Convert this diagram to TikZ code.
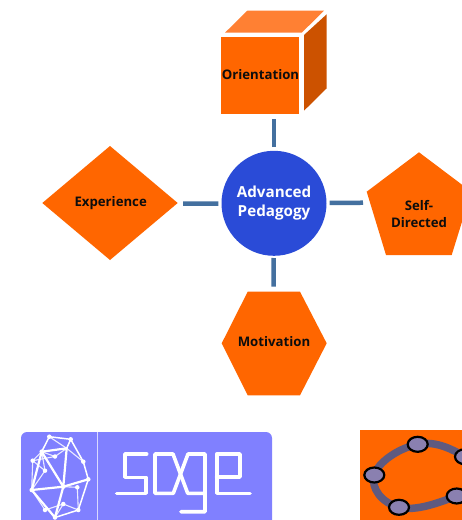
\documentclass[tikz,border=0pt]{standalone}
\usepackage{fontspec}
\setmainfont{Open Sans}
\definecolor{orangeM}{HTML}{FF6600}
\definecolor{orangeL}{HTML}{FF8033}
\definecolor{orangeD}{HTML}{CC5200}
\definecolor{hubblue}{HTML}{2A4BD7}
\definecolor{barblue}{HTML}{44709F}
\definecolor{sagebg}{HTML}{8080FF}
\definecolor{ggline}{HTML}{5F5A80}
\definecolor{ggdot}{HTML}{8A80B0}
\tikzset{
  x=1pt,y=-1pt,
  lab/.style={font=\bfseries\fontsize{13.2}{16}\selectfont,text=black!95,inner sep=0pt,align=center},
  bar/.style={draw=barblue,line width=4.5pt},
  wthick/.style={draw=white,line width=2.2pt,line cap=round,line join=round},
  wmid/.style={draw=white,line width=1.5pt,line cap=round,line join=round},
  wthin/.style={draw=white!85!sagebg,line width=1.1pt,line cap=round},
  wdot/.style={fill=white,draw=none,circle,minimum size=4.5pt,inner sep=0pt},
  sageglyph/.style={draw=white,line width=3.6pt,line join=round,line cap=round},
  ggdotstyle/.style={ellipse,fill=ggdot,draw=black,line width=2.2pt,minimum width=20pt,minimum height=15pt,inner sep=0pt}
}
\usetikzlibrary{shapes.geometric}
\begin{document}
\begin{tikzpicture}
\useasboundingbox (0,0) rectangle (462,520);
\clip (0,0) rectangle (462,520);
\fill[white] (0,0) rectangle (462,520);
% cube
\fill[orangeL] (225,32.7) -- (247.3,10.7) -- (324,10.7) -- (301.7,32.7) -- cycle;
\fill[orangeD] (304,35) -- (326.7,14.3) -- (326.7,88.3) -- (304,110.7) -- cycle;
\fill[orangeM] (220.7,37.3) rectangle (299.3,114.3);
\coordinate (cubeEdge) at (274,114.3);
\node[lab] (orient) at (260.5,75) {Orientation};
% diamond
\fill[orangeM] (42.3,203) -- (110,146) -- (177.7,203) -- (110,260) -- cycle;
\coordinate (diamondEdge) at (177.7,203.7);
\node[lab] (exper) at (110.7,203) {Experience};
% pentagon
\fill[orangeM] (419,152.3) -- (471.3,191.7) -- (451.7,255) -- (386,255) -- (366.7,191.7) -- cycle;
\coordinate (pentEdge) at (367.5,202.7);
\node[lab,font=\bfseries\fontsize{13.2}{16.3}\selectfont] (selfd) at (419,214) {Self-\\Directed};
% hexagon
\fill[orangeM] (221.7,343.3) -- (247.7,291.7) -- (300,291.7) -- (326.7,343.3) -- (300,395.3) -- (247.7,395.3) -- cycle;
\coordinate (hexEdge) at (273.5,291.7);
\node[lab] (motiv) at (274,342) {Motivation};
% hub
\node[circle,fill=hubblue,minimum size=105pt,inner sep=0pt,text=white,align=center,
  font=\bfseries\fontsize{15.2}{19.4}\selectfont] (hub) at (274,203.3) {Advanced\\Pedagogy};
% connectors
\draw[bar,shorten <=3.5pt,shorten >=5pt] (hub) -- (cubeEdge);
\draw[bar,shorten <=3pt,shorten >=5.5pt] (hub) -- (diamondEdge);
\draw[bar,shorten <=3pt,shorten >=4.5pt] (hub) -- (pentEdge);
\draw[bar,shorten <=2pt,shorten >=5pt] (hub) -- (hexEdge);
% sage logo
\fill[sagebg,rounded corners=6pt] (21,432) rectangle (272,540);
\draw[white!70!sagebg,line width=1.3pt] (97.7,432) -- (97.7,520);
\coordinate (a) at (49.3,436.7);
\coordinate (b) at (70.7,439.3);
\coordinate (c) at (83.3,461.7);
\coordinate (d) at (88.3,479.3);
\coordinate (e) at (78.3,510);
\coordinate (f) at (55,517.5);
\coordinate (g) at (31.7,490);
\coordinate (h) at (32.7,460.7);
\coordinate (i) at (41.7,451.7);
\coordinate (j) at (66.7,448.3);
\coordinate (k) at (63.3,486.7);
\coordinate (l) at (45,470.7);
\coordinate (m) at (55,456.5);
\coordinate (n) at (77.3,487.3);
\coordinate (o) at (63.3,504);
\coordinate (p) at (45,510);
\draw[wthin] (h)--(i) (h)--(g) (h)--(m) (i)--(l) (l)--(g) (m)--(j) (m)--(i) (n)--(e) (n)--(k) (o)--(e) (o)--(p) (p)--(g) (o)--(f) (a)--(j) (l)--(h) (c)--(j);
\draw[wmid] (a)--(b)--(c)--(d)--(e)--(f) (a)--(i) (b)--(j);
\draw[wthick] (i)--(j)--(k)--(i) (g)--(k)--(d) (g)--(f)--(k) (g)--(i);
\foreach \q in {a,b,c,d,e,f,g,h,i,k,l,m,n,o,p}{\node[wdot] at (\q) {};}
% sage word
\draw[sageglyph] (146.7,454) -- (125,454) -- (125,477.3) -- (145.7,477.3) -- (145.7,493.3) -- (116.7,493.3);
\draw[sageglyph] (173,454) -- (155,454) -- (155,493.3) -- (173.3,493.3) -- (188,454) -- (205,454) -- (205,511.7) -- (181,511.7);
\draw[sageglyph] (173,454) -- (187.7,493.3) -- (205,493.3);
\draw[sageglyph] (216.7,477) -- (240,477) -- (240,454) -- (216.7,454) -- (216.7,493.3) -- (250,493.3);
% geogebra logo
\fill[orangeM] (360,430) rectangle (470,525);
\coordinate (g1) at (417.7,444.3);
\coordinate (g2) at (374.3,475);
\coordinate (g3) at (399,507.3);
\coordinate (g4) at (456.7,496);
\coordinate (g5) at (465,456.7);
\draw[ggline,line width=7.5pt] plot[smooth cycle,tension=.75] coordinates {(g1) (g5) (478,478) (g4) (g3) (g2)};
\node[ggdotstyle] at (g1) {};
\node[ggdotstyle] at (g2) {};
\node[ggdotstyle] at (g3) {};
\node[ggdotstyle] at (g4) {};
\node[ggdotstyle] at (g5) {};
\end{tikzpicture}
\end{document}
